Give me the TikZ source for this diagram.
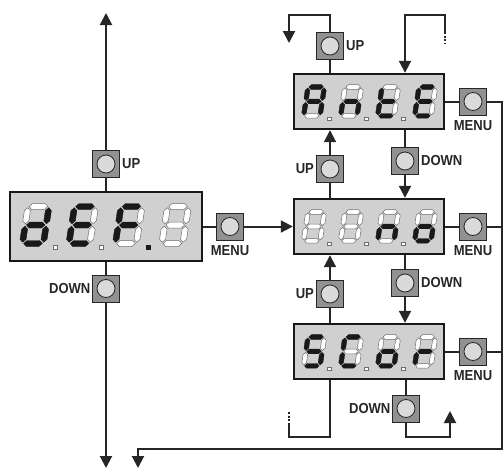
\documentclass[tikz,border=0pt]{standalone}
\usepackage{fontspec}
\setmainfont{Liberation Sans}[FakeStretch=0.9]
\usetikzlibrary{arrows.meta}
\definecolor{dispbg}{RGB}{208,208,208}
\definecolor{btnbg}{RGB}{145,145,145}
\definecolor{btncirc}{RGB}{218,218,218}
\definecolor{segedge}{RGB}{110,110,110}
\tikzset{
  disp/.style={draw=black!90, line width=2.4pt, fill=dispbg, inner sep=0pt, rectangle},
  dispA/.style={disp, minimum width=192pt, minimum height=69pt},
  dispB/.style={disp, minimum width=150pt, minimum height=55pt},
  btnbox/.style={draw=black!85, line width=0.8pt, fill=btnbg, minimum size=27pt, inner sep=0pt, rectangle,
    path picture={\draw[line width=0.8pt, draw=black!85, fill=btncirc] (path picture bounding box.center) circle[radius=9pt];}},
  lbl/.style={inner sep=0pt, text=black!85, font=\bfseries\fontsize{14.5}{15}\selectfont},
  conn/.style={line width=2pt, draw=black!85},
  arr/.style={conn, -{Triangle[length=12pt,width=12pt]}},
  dashconn/.style={conn, dash pattern=on 2pt off 1.6pt},
  segon/.style={fill=black!90, draw=black!90, line width=0.4pt},
  segoff/.style={fill=white, draw=segedge, line width=0.5pt},
}
\newcommand{\digit}[9]{%
  \begin{scope}[shift={#1}, scale=#2, xslant=0.15]
    \path[#3] (1.2,0) -- (4.2,-3) -- (16.8,-3) -- (19.8,0) -- (16.8,3) -- (4.2,3) -- cycle;
    \path[#4] (21,1.2) -- (24,4.2) -- (24,14.3) -- (21,17.3) -- (18,14.3) -- (18,4.2) -- cycle;
    \path[#5] (21,19.7) -- (24,22.7) -- (24,32.8) -- (21,35.8) -- (18,32.8) -- (18,22.7) -- cycle;
    \path[#6] (1.2,37) -- (4.2,34) -- (16.8,34) -- (19.8,37) -- (16.8,40) -- (4.2,40) -- cycle;
    \path[#7] (0,19.7) -- (3,22.7) -- (3,32.8) -- (0,35.8) -- (-3,32.8) -- (-3,22.7) -- cycle;
    \path[#8] (0,1.2) -- (3,4.2) -- (3,14.3) -- (0,17.3) -- (-3,14.3) -- (-3,4.2) -- cycle;
    \path[#9] (1.2,18.5) -- (4.2,15.5) -- (16.8,15.5) -- (19.8,18.5) -- (16.8,21.5) -- (4.2,21.5) -- cycle;
  \end{scope}}
\newcommand{\dpoint}[3]{%
  \begin{scope}[shift={#1}, scale=#2]
    \path[#3] (24.8,38.3) rectangle (29.2,42.7);
  \end{scope}}
\begin{document}
\begin{tikzpicture}[x=1pt, y=-1pt]
\useasboundingbox (0,0) rectangle (504,469);

% ---------- left display ----------
\node[dispA] (L) at (106,226.5) {};
\digit{(28,206.5)}{1}{segoff}{segon}{segon}{segon}{segon}{segoff}{segon}
\digit{(74.5,206.5)}{1}{segon}{segoff}{segoff}{segon}{segon}{segon}{segon}
\digit{(121,206.5)}{1}{segon}{segoff}{segoff}{segoff}{segon}{segon}{segon}
\digit{(167.5,206.5)}{1}{segoff}{segoff}{segoff}{segoff}{segoff}{segoff}{segoff}
\dpoint{(28,206.5)}{1}{segoff}
\dpoint{(74.5,206.5)}{1}{segoff}
\dpoint{(121,206.5)}{1}{segon}

\node[btnbox] (Lup) at (106,164) {};
\node[lbl, anchor=west] (LupT) at ([xshift=2pt]Lup.east) {UP};
\node[btnbox] (Ldown) at (106,288.5) {};
\node[lbl, anchor=east] (LdownT) at ([xshift=-1.5pt]Ldown.west) {DOWN};
\node[btnbox] (Lmenu) at (230,226.5) {};
\node[lbl, anchor=north] (LmenuT) at ([yshift=-5pt]Lmenu.south) {MENU};

% ---------- right displays ----------
\node[dispB] (A) at (369,101.5) {};
\node[dispB] (N) at (369,226.5) {};
\node[dispB] (S) at (369,351.5) {};

% Ante
\digit{(308,87)}{0.78}{segon}{segon}{segon}{segoff}{segon}{segon}{segon}
\digit{(345,87)}{0.78}{segoff}{segoff}{segon}{segoff}{segon}{segoff}{segon}
\digit{(382,87)}{0.78}{segoff}{segoff}{segoff}{segon}{segon}{segon}{segon}
\digit{(419,87)}{0.78}{segon}{segoff}{segoff}{segon}{segon}{segon}{segon}
% no
\digit{(308,212)}{0.78}{segoff}{segoff}{segoff}{segoff}{segoff}{segoff}{segoff}
\digit{(345,212)}{0.78}{segoff}{segoff}{segoff}{segoff}{segoff}{segoff}{segoff}
\digit{(382,212)}{0.78}{segoff}{segoff}{segon}{segoff}{segon}{segoff}{segon}
\digit{(419,212)}{0.78}{segoff}{segoff}{segon}{segon}{segon}{segoff}{segon}
% Scor
\digit{(308,337)}{0.78}{segon}{segoff}{segon}{segon}{segoff}{segon}{segon}
\digit{(345,337)}{0.78}{segon}{segoff}{segoff}{segon}{segon}{segon}{segoff}
\digit{(382,337)}{0.78}{segoff}{segoff}{segon}{segon}{segon}{segoff}{segon}
\digit{(419,337)}{0.78}{segoff}{segoff}{segoff}{segoff}{segon}{segoff}{segon}
\foreach \yy in {87,212,337}{
  \foreach \xx in {308,345,382}{
    \dpoint{(\xx,\yy)}{0.78}{segoff}
  }
}

% buttons right
\node[btnbox] (Aup) at (330,46) {};
\node[lbl, anchor=west] (AupT) at ([xshift=2pt]Aup.east) {UP};
\node[btnbox] (ANup) at (330,169) {};
\node[lbl, anchor=east] (ANupT) at ([xshift=-2pt]ANup.west) {UP};
\node[btnbox] (ANdown) at (405,161) {};
\node[lbl, anchor=west] (ANdownT) at ([xshift=2pt]ANdown.east) {DOWN};
\node[btnbox] (NSup) at (330,294) {};
\node[lbl, anchor=east] (NSupT) at ([xshift=-2pt]NSup.west) {UP};
\node[btnbox] (NSdown) at (405,283) {};
\node[lbl, anchor=west] (NSdownT) at ([xshift=2pt]NSdown.east) {DOWN};
\node[btnbox] (Sdown) at (406,408.5) {};
\node[lbl, anchor=east] (SdownT) at ([xshift=-1.5pt]Sdown.west) {DOWN};
\node[btnbox] (Amenu) at (473,101.5) {};
\node[lbl, anchor=north] (AmenuT) at ([yshift=-5pt]Amenu.south) {MENU};
\node[btnbox] (Nmenu) at (473,226.5) {};
\node[lbl, anchor=north] (NmenuT) at ([yshift=-5pt]Nmenu.south) {MENU};
\node[btnbox] (Smenu) at (473,351.5) {};
\node[lbl, anchor=north] (SmenuT) at ([yshift=-5pt]Smenu.south) {MENU};

% coordinates
\coordinate (Ltop) at (106,13);
\coordinate (Lbot) at (106,468);
\coordinate (tlc) at (289,15);
\coordinate (tl) at (289,43);
\coordinate (trc) at (445,15);
\coordinate (trd) at (445,32);
\coordinate (trdd) at (445,43);
\coordinate (blc) at (289,437);
\coordinate (bld) at (289,425);
\coordinate (bldd) at (289,411);
\coordinate (brc) at (450,437);
\coordinate (brt) at (450,411);
\coordinate (rb) at (502,449);
\coordinate (bb) at (138,449);
\coordinate (bbt) at (138,468);

% ---------- connectors ----------
\draw[arr] (Lup.north) -- (Ltop);
\draw[conn] (Lup.south) -- (L.north);
\draw[conn] (L.south) -- (Ldown.north);
\draw[arr] (Ldown.south) -- (Lbot);
\draw[conn] (L.east) -- (Lmenu.west);
\draw[arr] (Lmenu.east) -- (N.west);

\draw[arr] (Aup.north) |- (tlc) -- (tl);
\draw[conn] (Aup.south) -- (Aup.south |- A.north);
\draw[arr] (trd) -- (trc) -| (ANdown.north |- A.north);
\draw[dashconn] (trd) -- (trdd);

\draw[arr] (ANup.north) -- (ANup.north |- A.south);
\draw[conn] (N.north -| ANup) -- (ANup.south);
\draw[conn] (A.south -| ANdown) -- (ANdown.north);
\draw[arr] (ANdown.south) -- (ANdown.south |- N.north);

\draw[arr] (NSup.north) -- (NSup.north |- N.south);
\draw[conn] (S.north -| NSup) -- (NSup.south);
\draw[conn] (N.south -| NSdown) -- (NSdown.north);
\draw[arr] (NSdown.south) -- (NSdown.south |- S.north);

\draw[conn] (S.south -| NSup) |- (blc) -- (bld);
\draw[dashconn] (bld) -- (bldd);
\draw[conn] (S.south -| Sdown) -- (Sdown.north);
\draw[arr] (Sdown.south) |- (brc) -- (brt);

\draw[conn] (A.east) -- (Amenu.west);
\draw[conn] (N.east) -- (Nmenu.west);
\draw[conn] (S.east) -- (Smenu.west);
\draw[arr] (Amenu.east) -| (rb) -- (bb) -- (bbt);
\draw[conn] (Nmenu.east) -- (Nmenu.east -| rb);
\draw[conn] (Smenu.east) -- (Smenu.east -| rb);
\end{tikzpicture}
\end{document}
